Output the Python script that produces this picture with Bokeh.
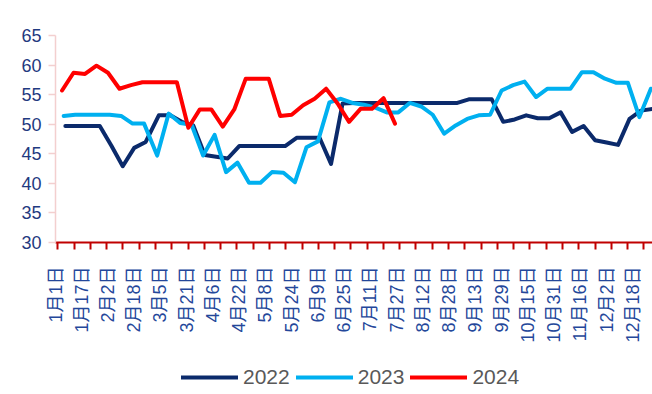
import math
import pandas as pd
from bokeh.plotting import figure
from bokeh.layouts import column
from bokeh.models import Range1d, FixedTicker, Legend, LegendItem
from bokeh.embed import file_html
from bokeh.resources import INLINE

# ---- data -------------------------------------------------------------
years = ["2022", "2023", "2024"]
first_dates = ["2022-01-07", "2023-01-06", "2024-01-05"]   # weekly (Fridays)

v2022 = [49.7, 49.7, 49.7, 49.7, 46.4, 42.9, 46.0, 47.0, 51.5, 51.5,
         50.4, 49.8, 44.8, 44.5, 44.2, 46.3, 46.3, 46.3, 46.3, 46.3,
         47.7, 47.7, 47.7, 43.3, 53.5, 53.6, 53.6, 53.6, 53.6, 53.6,
         53.6, 53.6, 53.6, 53.6, 53.6, 54.2, 54.2, 54.2, 50.4, 50.8,
         51.5, 51.0, 51.0, 52.0, 48.7, 49.7, 47.3, 46.9, 46.5, 50.9,
         52.3, 52.6]
v2023 = [51.4, 51.6, 51.6, 51.6, 51.6, 51.4, 50.1, 50.1, 44.7, 51.8,
         50.2, 49.9, 44.7, 48.2, 41.9, 43.5, 40.1, 40.1, 41.9, 41.8,
         40.2, 46.1, 47.1, 53.7, 54.3, 53.6, 53.3, 52.8, 52.0, 52.0,
         53.6, 53.0, 51.6, 48.4, 49.8, 50.9, 51.5, 51.6, 55.7, 56.6,
         57.2, 54.6, 56.0, 56.0, 56.0, 58.8, 58.8, 57.7, 57.0, 57.0,
         51.2, 56.0]
v2024 = [55.7, 58.7, 58.5, 59.9, 58.7, 56.0, 56.6, 57.1, 57.1, 57.1,
         57.1, 49.4, 52.5, 52.5, 49.6, 52.5, 57.7, 57.7, 57.7, 51.4,
         51.6, 53.2, 54.3, 56.0, 53.5, 50.4, 52.6, 52.6, 54.4, 50.1]
series = [v2022, v2023, v2024]
colors = ["#0B2A6B", "#00B0F0", "#FF0000"]

tick_labels = ["1月1日", "1月17日", "2月2日", "2月18日", "3月5日", "3月21日",
               "4月6日", "4月22日", "5月8日", "5月24日", "6月9日", "6月25日",
               "7月11日", "7月27日", "8月12日", "8月28日", "9月13日", "9月29日",
               "10月15日", "10月31日", "11月16日", "12月2日", "12月18日"]
y_ticks = [30, 35, 40, 45, 50, 55, 60, 65]

# ---- helpers ------------------------------------------------------------
base = pd.Timestamp("2024-01-01")


def day_positions(first, n):
    dates = pd.date_range(first, periods=n, freq="7D")
    return [(pd.Timestamp("2024-" + d.strftime("%m-%d")) - base).days for d in dates]


tick_days = [16 * i for i in range(len(tick_labels))]
minor_days = [1.4 + 9.927 * m for m in range(37)]

# ---- main chart -----------------------------------------------------------
p = figure(width=652, height=360,
           x_range=Range1d(0, 364), y_range=Range1d(30, 65),
           output_backend="svg", toolbar_location=None,
           min_border_left=55, min_border_right=0,
           min_border_top=35, min_border_bottom=118)
p.grid.visible = False
p.outline_line_color = None
p.background_fill_color = "white"
p.border_fill_color = "white"

renderers = []
for name, first, vals, col in zip(years, first_dates, series, colors):
    xs = day_positions(first, len(vals))
    r = p.line(xs, vals, line_width=4, line_color=col,
               line_join="round", line_cap="round")
    renderers.append(r)

# y axis
ya = p.yaxis[0]
ya.ticker = FixedTicker(ticks=y_ticks)
ya.axis_line_color = "#F3CFCF"
ya.axis_line_width = 1.5
ya.major_tick_line_color = "#F3CFCF"
ya.major_tick_line_width = 1.5
ya.major_tick_out = 7
ya.major_tick_in = 0
ya.minor_tick_line_color = None
ya.major_label_standoff = 7
ya.major_label_text_font = "Liberation Sans"
ya.major_label_text_font_size = "18px"
ya.major_label_text_color = "#1F3A80"

# x axis
xa = p.xaxis[0]
xa.ticker = FixedTicker(ticks=tick_days, minor_ticks=minor_days)
xa.major_label_overrides = {d: lab for d, lab in zip(tick_days, tick_labels)}
xa.major_label_orientation = math.pi / 2
xa.axis_line_color = "#C00000"
xa.axis_line_width = 2
xa.major_tick_line_color = None
xa.major_tick_out = 0
xa.major_tick_in = 0
xa.minor_tick_line_color = "#C00000"
xa.minor_tick_line_width = 2
xa.minor_tick_out = 7
xa.minor_tick_in = 0
xa.major_label_standoff = 17
xa.major_label_text_font = "Liberation Sans, Noto Sans CJK SC"
xa.major_label_text_font_size = "18px"
xa.major_label_text_color = "#24479A"

# ---- legend strip (same series, kept out of view; only the key shows) -----
lf = figure(width=652, height=34, x_range=(-2, -1), y_range=(0, 1),
            output_backend="svg", toolbar_location=None,
            x_axis_location=None, y_axis_location=None,
            min_border=0, min_border_left=0, min_border_right=0,
            min_border_top=0, min_border_bottom=0)
lf.grid.visible = False
lf.outline_line_color = None
lf.background_fill_color = "white"
lf.border_fill_color = "white"

key_renderers = []
for first, vals, col in zip(first_dates, series, colors):
    key_renderers.append(lf.line(day_positions(first, len(vals)), vals,
                                 line_width=4, line_color=col, line_cap="round"))
legend = Legend(items=[LegendItem(label=n, renderers=[r]) for n, r in zip(years, key_renderers)],
                orientation="horizontal", location=(126, 5),
                glyph_width=57, glyph_height=20, label_standoff=5, spacing=6,
                padding=0, margin=0, border_line_alpha=0, background_fill_alpha=0,
                label_text_font="Liberation Sans", label_text_font_size="21px",
                label_text_color="#595959")
lf.add_layout(legend, "center")

layout = column(p, lf, spacing=0)
open("out.html", "w").write(file_html(layout, INLINE))
